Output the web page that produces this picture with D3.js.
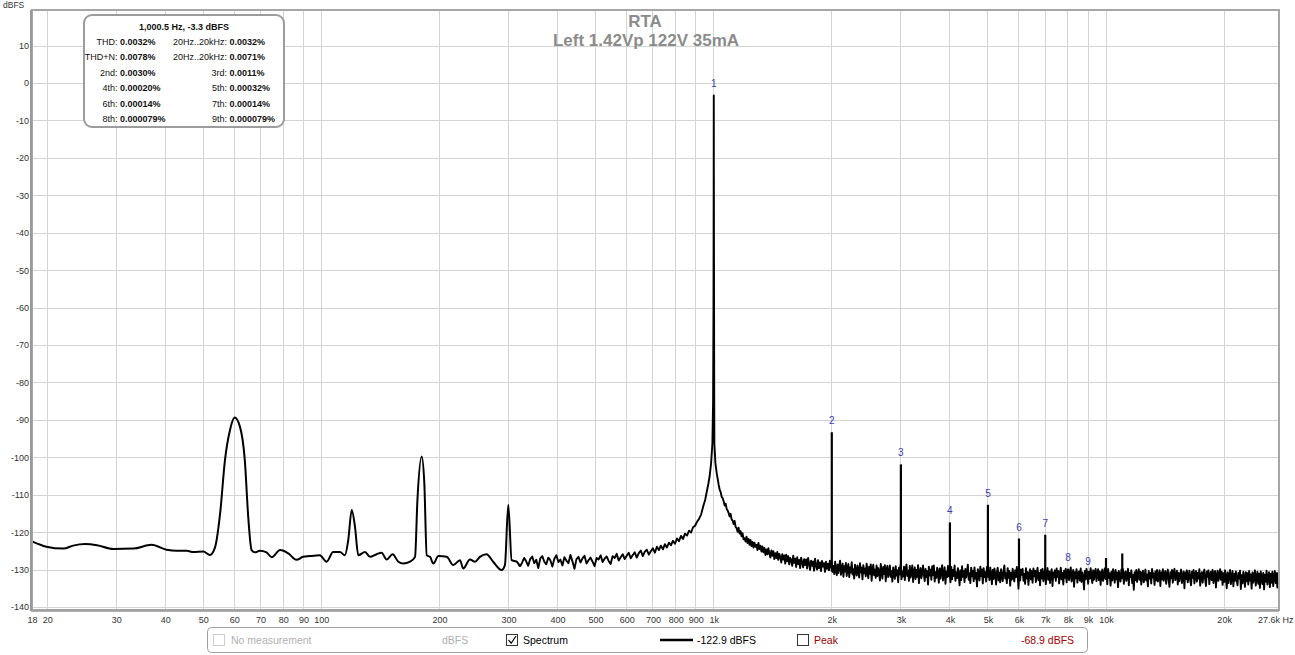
<!DOCTYPE html>
<html><head><meta charset="utf-8">
<script src="https://cdn.jsdelivr.net/npm/d3@7"></script>
<style>
html,body{margin:0;padding:0;background:#fff;}
svg{display:block;font-family:"Liberation Sans",Arial,sans-serif;}
</style></head><body>
<svg id="c" width="1295" height="655"></svg>
<script>
// ---------------- DATA ----------------
const titleLines = ["RTA", "Left 1.42Vp 122V 35mA"];
const yUnit = "dBFS";
const yTickVals = [10,0,-10,-20,-30,-40,-50,-60,-70,-80,-90,-100,-110,-120,-130,-140];
const xTickVals = [18.3,20,30,40,50,60,70,80,90,100,200,300,400,500,600,700,800,900,1000,2000,3000,4000,5000,6000,7000,8000,9000,10000,20000,27600];
const xTickLabels = ["18","20","30","40","50","60","70","80","90","100","200","300","400","500","600","700","800","900","1k","2k","3k","4k","5k","6k","7k","8k","9k","10k","20k","27.6k Hz"];
const xGridVals = [20,30,40,50,60,70,80,90,100,200,300,400,500,600,700,800,900,1000,2000,3000,4000,5000,6000,7000,8000,9000,10000,20000];

// low-frequency part of the spectrum (Hz, dBFS)
const lowHz = [18.3,19.9,22,23.3,25,26.8,29.5,33.2,36.9,40.3,42.8,45.4,47.2,50,52,53.6,55.2,56.8,58.5,60.1,62,63.8,65.1,66.4,67.7,69.7,72.5,74.7,78.5,82.4,86.4,89.8,93.4,99.1,103.1,107.2,111.5,114.8,117.1,119.5,121.8,124.2,129.2,133,138.3,142.4,146.7,151.9,157.1,161.8,168.3,173.3,175.7,180.2,183,185.6,189.2,192.9,198.7,208.7,216.9,225.6,229.9,239.2,246.3,253.6,263.7,274.1,288,293.7,299.5,305.5,314.6,320.8];
const lowDb = [-122.5,-123.9,-124.4,-123.6,-123.2,-123.5,-124.5,-124.4,-123.4,-124.7,-125,-125,-125.3,-125.2,-126.1,-124,-115,-100.7,-92.7,-89.4,-91.8,-100.7,-115.9,-124.8,-125.4,-125,-125.4,-126.7,-124.8,-125.7,-127.4,-126.6,-126.4,-126.2,-127.9,-125.3,-125.3,-126.2,-122.1,-114.1,-118.5,-126.2,-125.3,-126.6,-125.9,-125.5,-127.3,-125.9,-127.9,-128.4,-127.9,-126.6,-111.6,-99.8,-107,-126.2,-126.6,-128.4,-126.4,-126.6,-128.8,-127.5,-129.7,-127.3,-127.9,-126.6,-125.9,-127.9,-130.1,-128.8,-112.7,-127.5,-127.9,-129.2];

// noise floor 325 Hz .. 951 Hz (bins evenly spaced on the log axis)
const floorHzRange = [325, 951];
const floorDb = [
-128.1,-126.9,-127.8,-129.0,-127.2,-126.5,-128.3,-127.4,-129.6,-127.0,
-126.4,-127.9,-128.6,-126.8,-127.5,-129.2,-127.1,-126.2,-128.0,-127.3,
-128.9,-126.7,-127.6,-128.3,-126.1,-127.8,-129.8,-127.2,-126.6,-128.1,
-127.0,-126.3,-128.4,-127.5,-126.8,-127.9,-129.1,-126.9,-127.3,-126.2,
-128.0,-127.1,-126.5,-127.7,-128.5,-126.4,-126.9,-125.8,-127.6,-126.7,
-125.9,-127.2,-126.3,-125.5,-127.0,-126.1,-125.4,-126.8,-125.6,-124.9,
-126.4,-125.2,-124.7,-126.0,-125.1,-124.3,-125.5,-123.9,-124.8,-123.6,
-124.6,-123.2,-124.1,-122.8,-123.5,-122.3,-123.1,-121.7,-122.4,-121.0,
-121.8,-120.4,-120.9,-119.6,-120.1,-118.7,-118.3,-117.2,-116.4,-115.3,
-113.2,-111.4];

// fundamental
const peakHz = [969.4,976,984.9,992.4,996.5,998.8,1000,1000.5,1001,1002.2,1003.2,1004,1010];
const peakDb = [-107,-105.2,-101.6,-96.3,-85,-60,-25,-3.3,-25,-60,-85,-96.3,-101.5];

// right skirt 1018 Hz .. 1990 Hz
const skirtHzRange = [1018, 1990];
const skirtDb = [
-104.3,-105.8,-107.4,-108.7,-109.3,-110.6,-110.9,-111.8,-112.9,-112.4,
-113.8,-114.2,-114.9,-115.8,-115.1,-116.6,-116.9,-117.8,-117.0,-118.6,
-118.9,-119.9,-118.8,-120.4,-119.7,-121.1,-120.3,-121.9,-121.6,-122.5,
-121.2,-122.9,-121.8,-123.4,-122.1,-123.7,-122.6,-124.1,-122.8,-123.9,
-123.4,-124.8,-122.9,-124.5,-123.6,-125.2,-123.8,-125.4,-124.2,-126.1,
-124.6,-125.9,-124.3,-125.7,-126.8,-124.9,-126.3,-125.1,-127.2,-125.6,
-126.9,-125.3,-127.4,-125.8,-126.6,-128.1,-125.9,-127.3,-126.2,-128.4,
-126.0,-127.8,-126.4,-128.6,-126.9,-127.5,-129.0,-126.3,-128.2,-127.1,
-129.3,-126.7,-128.5,-127.4,-129.6,-126.8,-128.0,-129.4,-127.2,-128.8,
-127.3,-129.7,-126.9,-128.4,-130.1,-127.6,-129.0,-127.8,-130.3,-127.1,
-128.9,-130.0,-127.5,-129.6,-128.1,-130.4,-127.7,-129.2,-128.3,-130.6,
-127.9,-129.8,-128.4,-130.2,-127.6,-129.5];

// dense noise band 2 kHz .. 27.6 kHz
const bandHzRange = [2000, 27600];
const bandDb = [
-128.1,-130.6,-129.0,-131.2,-127.9,-130.1,-131.5,-128.6,-130.9,-129.3,
-127.6,-131.4,-129.8,-128.4,-131.9,-129.1,-130.5,-128.2,-131.7,-129.6,
-128.5,-132.0,-129.4,-130.8,-128.0,-131.3,-129.9,-132.4,-128.7,-130.3,
-131.6,-128.9,-130.2,-132.1,-128.3,-130.7,-129.5,-132.6,-128.8,-131.0,
-129.7,-131.8,-128.4,-130.4,-132.3,-129.2,-131.1,-128.6,-133.0,-129.9,
-128.7,-131.5,-130.0,-132.2,-128.9,-131.7,-129.6,-130.8,-132.9,-128.5,
-130.6,-132.4,-129.3,-131.2,-128.8,-133.1,-130.1,-129.0,-132.0,-130.9,
-128.9,-131.9,-130.4,-133.2,-129.4,-131.0,-132.5,-129.1,-131.6,-130.2,
-133.4,-129.5,-131.3,-128.7,-132.6,-130.5,-131.8,-129.2,-132.8,-130.0,
-128.6,-131.7,-130.3,-133.0,-129.0,-132.1,-130.8,-128.9,-133.3,-130.6,
-129.4,-132.5,-130.1,-131.9,-128.8,-133.6,-130.9,-129.6,-132.3,-131.1,
-128.9,-131.4,-133.1,-129.8,-132.0,-130.4,-134.0,-129.2,-131.6,-130.0,
-132.7,-129.1,-131.5,-128.9,-133.2,-130.7,-132.2,-129.5,-131.0,-133.5,
-129.7,-132.4,-130.2,-128.8,-132.9,-131.3,-129.4,-133.8,-130.6,-132.0,
-129.0,-131.8,-130.5,-133.4,-129.3,-132.6,-130.1,-131.7,-128.9,-133.0,
-130.8,-132.3,-129.6,-131.4,-134.2,-130.2,-132.8,-129.1,-131.9,-130.4,
-133.3,-129.8,-132.1,-130.6,-128.7,-132.7,-131.0,-133.6,-129.5,-131.8,
-130.3,-133.1,-129.4,-132.4,-130.9,-134.5,-129.9,-131.5,-132.9,-129.2,
-131.7,-130.0,-133.7,-129.6,-132.0,-130.7,-133.2,-129.3,-131.9,-130.5,
-132.8,-129.4,-131.6,-133.9,-130.1,-132.5,-129.7,-131.2,-134.0,-130.6,
-129.5,-132.9,-130.8,-133.4,-129.9,-131.7,-133.1,-130.3,-128.9,-132.4,
-131.0,-133.6,-129.6,-132.2,-130.4,-134.3,-130.9,-132.7,-129.8,-131.9,
-133.2,-130.2,-132.0,-129.3,-131.5,-135.1,-130.6,-132.9,-130.0,-131.4,
-129.8,-133.0,-131.2,-133.8,-129.6,-132.3,-130.7,-134.1,-131.1,-129.9,
-132.6,-130.4,-133.5,-129.7,-131.8,-130.3,-133.3,-131.0,-129.5,-132.8,
-130.9,-134.2,-130.1,-132.4,-129.8,-133.1,-131.4,-130.0,-133.9,-131.2,
-129.6,-132.7,-130.5,-133.6,-131.0,-129.9,-134.4,-130.8,-132.1,-130.2,
-133.0,-129.7,-131.9,-130.4,-133.7,-131.3,-129.5,-132.6,-130.9,-134.0,
-130.3,-132.2,-129.8,-133.4,-131.1,-130.0,-132.8,-131.5,-129.4,-133.2,
-131.6,-130.1,-134.6,-130.7,-132.3,-129.9,-133.5,-131.0,-130.5,-132.9,
-129.7,-133.3,-130.8,-132.0,-135.3,-130.4,-132.6,-129.8,-131.7,-133.8,
-130.6,-132.4,-129.6,-131.9,-133.6,-130.2,-132.7,-130.9,-129.8,-133.1,
-131.4,-129.9,-132.8,-130.5,-134.1,-131.2,-130.0,-133.0,-131.5,-129.7,
-132.5,-130.3,-133.9,-129.8,-132.2,-131.0,-134.3,-130.6,-132.9,-129.9,
-131.7,-133.5,-130.1,-132.6,-130.8,-134.7,-130.4,-131.9,-133.2,-130.0,
-132.3,-129.9,-133.8,-131.2,-130.5,-133.0,-131.6,-129.8,-134.2,-130.9,
-132.0,-130.2,-133.6,-131.4,-135.4,-130.7,-132.8,-130.1,-133.3,-131.5,
-129.9,-132.7,-130.6,-134.0,-131.1,-130.3,-133.4,-131.8,-130.0,-132.9,
-131.3,-134.5,-130.4,-132.4,-130.9,-133.7,-129.8,-132.1,-131.0,-134.1,
-130.5,-132.9,-130.1,-133.2,-131.6,-130.2,-134.4,-130.8,-132.6,-129.9,
-133.0,-131.2,-130.4,-133.8,-131.5,-130.0,-132.7,-134.6,-130.7,-132.3,
-130.1,-133.5,-131.0,-129.8,-132.8,-131.7,-130.3,-134.0,-130.9,-133.1,
-131.4,-130.0,-133.6,-131.9,-130.5,-135.0,-130.8,-132.5,-130.2,-133.4,
-131.8,-130.3,-132.9,-134.2,-130.6,-132.2,-130.1,-133.7,-131.3,-130.4,
-133.2,-130.9,-132.4,-129.9,-134.3,-131.6,-130.7,-133.5,-131.1,-130.0,
-132.6,-134.4,-130.5,-131.9,-130.2,-133.9,-131.4,-130.6,-132.8,-130.1,
-133.6,-131.2,-130.4,-134.8,-131.8,-130.3,-133.0,-131.5,-129.9,-132.7,
-130.6,-134.1,-131.0,-133.3,-130.2,-132.5,-135.0,-130.8,-133.6,-131.4,
-130.1,-133.9,-131.7,-130.4,-134.5,-131.2,-133.0,-130.5,-132.8,-134.2,
-130.9,-132.4,-130.3,-135.2,-131.5,-133.7,-130.6,-132.1,-134.6,-130.7,
-133.1,-131.0,-134.0,-130.4,-132.9,-131.3,-135.1,-130.8,-133.5,-131.6,
-130.2,-134.3,-131.9,-130.6,-133.8,-131.1,-134.9,-130.5,-132.6,-133.9,
-130.9,-135.3,-131.4,-133.2,-130.3,-134.0,-131.7,-130.7,-134.7,-131.2,
-133.5,-130.6,-134.4,-131.8,-130.4,-133.6,-131.0,-134.8,-130.9,-133.3];

// harmonics (marker numbers) and extra spurs
const harmLabels = ["1","2","3","4","5","6","7","8","9"];
const harmHz = [1000.5,2000,3000,4000,5000,6000,7000,8000,9000];
const harmDb = [-3.3,-93.3,-101.9,-117.4,-112.7,-121.7,-120.7,-129.8,-130.9];
const spurHz = [10000,11000];
const spurDb = [-126.9,-125.7];
const spikeBaseDb = -130.5;

// info box
const infoTitle = "1,000.5 Hz, -3.3 dBFS";
const infoLabelsL = ["THD:","THD+N:","2nd:","4th:","6th:","8th:"];
const infoValsL = ["0.0032%","0.0078%","0.0030%","0.00020%","0.00014%","0.000079%"];
const infoLabelsR = ["20Hz..20kHz:","20Hz..20kHz:","3rd:","5th:","7th:","9th:"];
const infoValsR = ["0.0032%","0.0071%","0.0011%","0.00032%","0.00014%","0.000079%"];

// legend
const legNoMeas = "No measurement", legNoMeasUnit = "dBFS";
const legSpectrum = "Spectrum", legSpectrumVal = "-122.9 dBFS";
const legPeak = "Peak", legPeakVal = "-68.9 dBFS";

// ---------------- DRAW ----------------
const svg = d3.select("#c");
const M = {l:32, r:1279, t:10, b:610};
const x = d3.scaleLog().domain([18.3, 27600]).range([M.l, M.r]);
const y = d3.scaleLinear().domain([-140.8, 19.5]).range([M.b, M.t]);

svg.append("rect").attr("width",1295).attr("height",655).attr("fill","#fff");

svg.append("defs").append("clipPath").attr("id","clip")
  .append("rect").attr("x",M.l).attr("y",M.t).attr("width",M.r-M.l).attr("height",M.b-M.t);

// vertical grid
svg.append("g").selectAll("line").data(xGridVals).join("line")
  .attr("x1",d=>x(d)).attr("x2",d=>x(d)).attr("y1",M.t).attr("y2",M.b)
  .attr("stroke","#d4d4d4").attr("stroke-width",1).attr("shape-rendering","crispEdges");

// y axis with grid
const yAxis = d3.axisLeft(y).tickValues(yTickVals).tickFormat(d=>d)
  .tickSize(-(M.r-M.l)).tickPadding(3);
const gy = svg.append("g").attr("transform",`translate(${M.l},0)`).call(yAxis);
gy.select(".domain").remove();
gy.selectAll(".tick line").attr("stroke","#d4d4d4").attr("shape-rendering","crispEdges");
gy.selectAll(".tick text").attr("fill","#333").attr("font-size",9)
  .attr("font-family","'Liberation Sans',Arial,sans-serif");

// x axis labels
const xAxis = d3.axisBottom(x).tickValues(xTickVals).tickFormat((d,i)=>xTickLabels[i])
  .tickSize(0).tickPadding(7);
const gx = svg.append("g").attr("transform",`translate(0,${M.b})`).call(xAxis);
gx.select(".domain").remove();
gx.selectAll(".tick text").attr("fill","#333").attr("font-size",9)
  .attr("font-family","'Liberation Sans',Arial,sans-serif")
  .attr("text-anchor",(d,i)=> i===xTickVals.length-1 ? "end" : "middle")
  .attr("dx",(d,i)=> i===xTickVals.length-1 ? 14 : 0);

// y unit
svg.append("text").attr("x",3).attr("y",8).attr("font-size",8.5).attr("fill","#333").text(yUnit);

// title
svg.append("text").attr("x",645).attr("y",27).attr("text-anchor","middle")
  .attr("font-size",17).attr("font-weight","bold").attr("fill","#8c8c8c").text(titleLines[0]);
svg.append("text").attr("x",646).attr("y",46).attr("text-anchor","middle")
  .attr("font-size",17).attr("font-weight","bold").attr("fill","#8c8c8c").text(titleLines[1]);

// spectrum points
function gridSeg(range, vals){
  const n = vals.length;
  return vals.map((v,i)=>({f: range[0]*Math.pow(range[1]/range[0], i/(n-1)), db: v}));
}
const lowPts = lowHz.map((f,i)=>({f, db: lowDb[i]}));
const restPts = [lowPts[lowPts.length-1]].concat(
  gridSeg(floorHzRange, floorDb),
  peakHz.map((f,i)=>({f, db: peakDb[i]})),
  gridSeg(skirtHzRange, skirtDb),
  gridSeg(bandHzRange, bandDb)
);
const smoothLine = d3.line().x(d=>x(d.f)).y(d=>y(d.db)).curve(d3.curveMonotoneX);
const rawLine = d3.line().x(d=>x(d.f)).y(d=>y(d.db)).curve(d3.curveLinear);
const plot = svg.append("g").attr("clip-path","url(#clip)");
plot.append("path").datum(lowPts).attr("d",smoothLine).attr("fill","none")
  .attr("stroke","#000").attr("stroke-width",2).attr("stroke-linejoin","round");
plot.append("path").datum(restPts).attr("d",rawLine).attr("fill","none")
  .attr("stroke","#000").attr("stroke-width",1.9).attr("stroke-linejoin","round");

// harmonic spikes and spurs
const spikes = harmHz.slice(1).map((f,i)=>({f, db: harmDb[i+1]}))
  .concat(spurHz.map((f,i)=>({f, db: spurDb[i]})));
plot.selectAll("line.spk").data(spikes).join("line").attr("class","spk")
  .attr("x1",d=>x(d.f)).attr("x2",d=>x(d.f))
  .attr("y1",y(spikeBaseDb)).attr("y2",d=>y(d.db))
  .attr("stroke","#000").attr("stroke-width",2.2);

// harmonic labels
svg.append("g").selectAll("text").data(harmLabels).join("text")
  .attr("x",(d,i)=>x(harmHz[i])).attr("y",(d,i)=>y(harmDb[i])-8)
  .attr("text-anchor","middle").attr("font-size",10).attr("fill","#3c3cb0").text(d=>d);

// frame
svg.append("rect").attr("x",M.l).attr("y",M.t).attr("width",M.r-M.l).attr("height",M.b-M.t)
  .attr("fill","none").attr("stroke","#a6a6a6").attr("stroke-width",2);
svg.append("line").attr("x1",M.l-1).attr("x2",M.l-1).attr("y1",M.t).attr("y2",M.b+1)
  .attr("stroke","#9a9a9a").attr("stroke-width",2);
svg.append("line").attr("x1",M.l-1).attr("x2",M.r).attr("y1",M.b+1).attr("y2",M.b+1)
  .attr("stroke","#9a9a9a").attr("stroke-width",1.5);

// info box
const ib = svg.append("g").attr("font-size",9).attr("fill","#111");
ib.append("rect").attr("x",84).attr("y",15).attr("width",200).attr("height",112).attr("rx",8)
  .attr("fill","#fff").attr("stroke","#9c9c9c").attr("stroke-width",2);
ib.append("text").attr("x",184).attr("y",29.5).attr("text-anchor","middle")
  .attr("font-weight","bold").text(infoTitle);
const rowY = [44.5,60,75.5,91,106.5,122];
infoLabelsL.forEach((t,i)=>{
  ib.append("text").attr("x",117.5).attr("y",rowY[i]).attr("text-anchor","end").text(t);
  ib.append("text").attr("x",120).attr("y",rowY[i]).attr("font-weight","bold").text(infoValsL[i]);
  ib.append("text").attr("x",227).attr("y",rowY[i]).attr("text-anchor","end").text(infoLabelsR[i]);
  ib.append("text").attr("x",229.5).attr("y",rowY[i]).attr("font-weight","bold").text(infoValsR[i]);
});

// legend
const lg = svg.append("g").attr("font-size",10.5);
lg.append("rect").attr("x",207.5).attr("y",627.5).attr("width",880).attr("height",25).attr("rx",4)
  .attr("fill","#fff").attr("stroke","#a0a0a0");
lg.append("rect").attr("x",213.5).attr("y",634.5).attr("width",11).attr("height",11)
  .attr("fill","#fff").attr("stroke","#cfcfcf");
lg.append("text").attr("x",231).attr("y",644).attr("fill","#b0b0b0").text(legNoMeas);
lg.append("text").attr("x",442).attr("y",644).attr("fill","#b0b0b0").text(legNoMeasUnit);
lg.append("rect").attr("x",506.5).attr("y",634.5).attr("width",11).attr("height",11)
  .attr("fill","#fff").attr("stroke","#333");
lg.append("path").attr("d","M508.5,640 L511.2,643.2 L516,636").attr("fill","none")
  .attr("stroke","#111").attr("stroke-width",1.2);
lg.append("text").attr("x",523).attr("y",644).attr("fill","#000").text(legSpectrum);
lg.append("line").attr("x1",660).attr("x2",693).attr("y1",640).attr("y2",640)
  .attr("stroke","#000").attr("stroke-width",2.5);
lg.append("text").attr("x",697).attr("y",644).attr("fill","#000").text(legSpectrumVal);
lg.append("rect").attr("x",797.5).attr("y",634.5).attr("width",11).attr("height",11)
  .attr("fill","#fff").attr("stroke","#333");
lg.append("text").attr("x",814).attr("y",644).attr("fill","#a00000").text(legPeak);
lg.append("text").attr("x",1021).attr("y",644).attr("fill","#a00000").text(legPeakVal);
</script>
</body></html>
